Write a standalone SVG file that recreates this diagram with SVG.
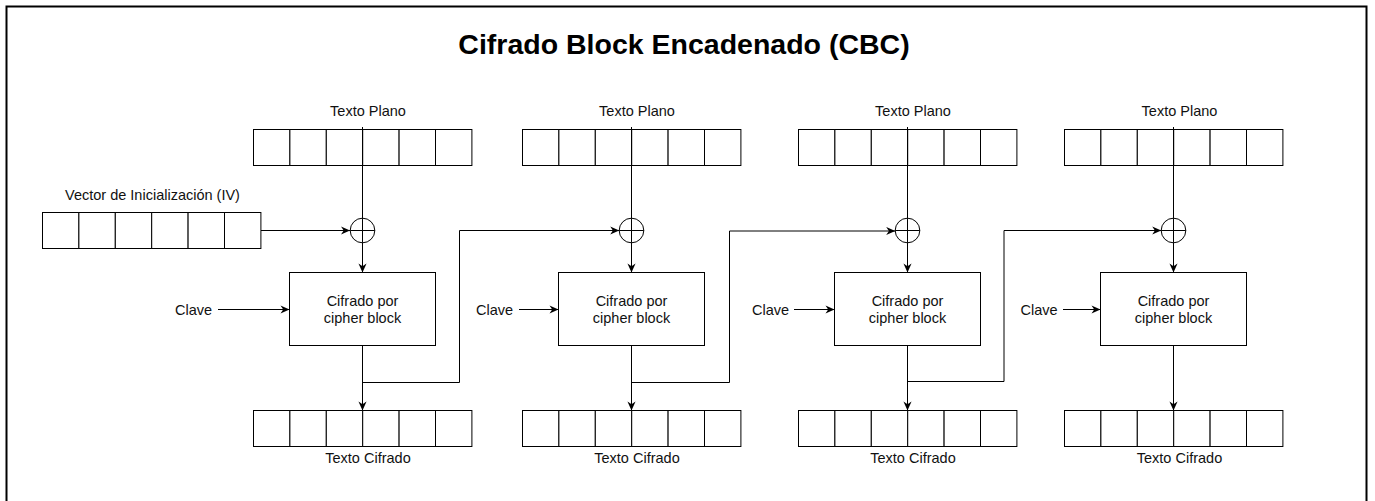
<svg xmlns="http://www.w3.org/2000/svg" width="1375" height="501" viewBox="0 0 1375 501">
<style>
.cell{fill:#fff;stroke:#000;stroke-width:1}
.box{fill:#fff;stroke:#000;stroke-width:1}
.xor{fill:none;stroke:#000;stroke-width:1}
.conn{fill:none;stroke:#000;stroke-width:1}
.lbl{font-family:"Liberation Sans",Arial,sans-serif;font-size:14.5px;fill:#111;text-anchor:middle}
.title{font-family:"Liberation Sans",Arial,sans-serif;font-size:28.5px;font-weight:bold;fill:#000;text-anchor:middle}
</style>
<defs>
<marker id="arr" viewBox="0 0 10 10" refX="10" refY="5" markerWidth="10" markerHeight="9" orient="auto" markerUnits="userSpaceOnUse"><path d="M0,0.5 L10,5 L0,9.5 L3,5 z" fill="#000"/></marker>
<g id="row">
<rect class="cell" x="0" y="0" width="36.4" height="36"/>
<rect class="cell" x="36.4" y="0" width="36.4" height="36"/>
<rect class="cell" x="72.8" y="0" width="36.4" height="36"/>
<rect class="cell" x="109.2" y="0" width="36.4" height="36"/>
<rect class="cell" x="145.6" y="0" width="36.4" height="36"/>
<rect class="cell" x="182" y="0" width="36.4" height="36"/>
</g>
</defs>
<rect x="0" y="0" width="1375" height="501" fill="#fff"/>
<rect x="6.5" y="6.5" width="1360" height="520" fill="none" stroke="#000" stroke-width="2"/>
<text id="title" class="title" x="684" y="54">Cifrado Block Encadenado (CBC)</text>

<g id="iv">
<use href="#row" x="42.5" y="212.5"/>
<text class="lbl" x="152.5" y="200">Vector de Inicialización (IV)</text>
</g>

<g id="plain1"><use href="#row" x="253.5" y="129.5"/><text class="lbl" x="368" y="116">Texto Plano</text></g>
<g id="plain2"><use href="#row" x="522.5" y="129.5"/><text class="lbl" x="637" y="116">Texto Plano</text></g>
<g id="plain3"><use href="#row" x="798.5" y="129.5"/><text class="lbl" x="913" y="116">Texto Plano</text></g>
<g id="plain4"><use href="#row" x="1064.5" y="129.5"/><text class="lbl" x="1179.5" y="116">Texto Plano</text></g>

<g id="xor1"><circle class="xor" cx="362.5" cy="230.5" r="12.3"/><path class="xor" d="M350.2,230.5 H374.8 M362.5,218.2 V242.8"/></g>
<g id="xor2"><circle class="xor" cx="631.5" cy="230.5" r="12.3"/><path class="xor" d="M619.2,230.5 H643.8 M631.5,218.2 V242.8"/></g>
<g id="xor3"><circle class="xor" cx="907.5" cy="230.5" r="12.3"/><path class="xor" d="M895.2,230.5 H919.8 M907.5,218.2 V242.8"/></g>
<g id="xor4"><circle class="xor" cx="1173.5" cy="230.5" r="12.3"/><path class="xor" d="M1161.2,230.5 H1185.8 M1173.5,218.2 V242.8"/></g>

<g id="enc1"><rect class="box" x="289.5" y="272.5" width="146" height="73"/><text class="lbl" x="362.5" y="306">Cifrado por</text><text class="lbl" x="362.5" y="323">cipher block</text></g>
<g id="enc2"><rect class="box" x="558.5" y="272.5" width="146" height="73"/><text class="lbl" x="631.5" y="306">Cifrado por</text><text class="lbl" x="631.5" y="323">cipher block</text></g>
<g id="enc3"><rect class="box" x="834.5" y="272.5" width="146" height="73"/><text class="lbl" x="907.5" y="306">Cifrado por</text><text class="lbl" x="907.5" y="323">cipher block</text></g>
<g id="enc4"><rect class="box" x="1100.5" y="272.5" width="146" height="73"/><text class="lbl" x="1173.5" y="306">Cifrado por</text><text class="lbl" x="1173.5" y="323">cipher block</text></g>

<g id="key1"><text class="lbl" x="193.5" y="314.5">Clave</text></g>
<g id="key2"><text class="lbl" x="494.5" y="314.5">Clave</text></g>
<g id="key3"><text class="lbl" x="770.5" y="314.5">Clave</text></g>
<g id="key4"><text class="lbl" x="1039" y="314.5">Clave</text></g>

<g id="cipher1"><use href="#row" x="253.5" y="410.5"/><text class="lbl" x="368" y="463">Texto Cifrado</text></g>
<g id="cipher2"><use href="#row" x="522.5" y="410.5"/><text class="lbl" x="637" y="463">Texto Cifrado</text></g>
<g id="cipher3"><use href="#row" x="798.5" y="410.5"/><text class="lbl" x="913" y="463">Texto Cifrado</text></g>
<g id="cipher4"><use href="#row" x="1064.5" y="410.5"/><text class="lbl" x="1179.5" y="463">Texto Cifrado</text></g>

<g id="connectors">
<path class="conn" d="M261,230.5 H350" marker-end="url(#arr)"/>
<path class="conn" d="M362.5,127 V218.2"/>
<path class="conn" d="M631.5,127 V218.2"/>
<path class="conn" d="M907.5,127 V218.2"/>
<path class="conn" d="M1173.5,127 V218.2"/>
<path class="conn" d="M362.5,242.8 V272.5" marker-end="url(#arr)"/>
<path class="conn" d="M631.5,242.8 V272.5" marker-end="url(#arr)"/>
<path class="conn" d="M907.5,242.8 V272.5" marker-end="url(#arr)"/>
<path class="conn" d="M1173.5,242.8 V272.5" marker-end="url(#arr)"/>
<path class="conn" d="M218,309.5 H289.5" marker-end="url(#arr)"/>
<path class="conn" d="M519,309.5 H558.5" marker-end="url(#arr)"/>
<path class="conn" d="M794,309.5 H834.5" marker-end="url(#arr)"/>
<path class="conn" d="M1063,309.5 H1100.5" marker-end="url(#arr)"/>
<path class="conn" d="M362.5,345.5 V410.5" marker-end="url(#arr)"/>
<path class="conn" d="M631.5,345.5 V410.5" marker-end="url(#arr)"/>
<path class="conn" d="M907.5,345.5 V410.5" marker-end="url(#arr)"/>
<path class="conn" d="M1173.5,345.5 V410.5" marker-end="url(#arr)"/>
<path class="conn" d="M362.5,382.5 H459.5 V230.5 H619.2" marker-end="url(#arr)"/>
<path class="conn" d="M631.5,382.5 H729.5 V231 H895.2" marker-end="url(#arr)"/>
<path class="conn" d="M907.5,381.5 H1004 V230.5 H1161.2" marker-end="url(#arr)"/>
</g>
</svg>
